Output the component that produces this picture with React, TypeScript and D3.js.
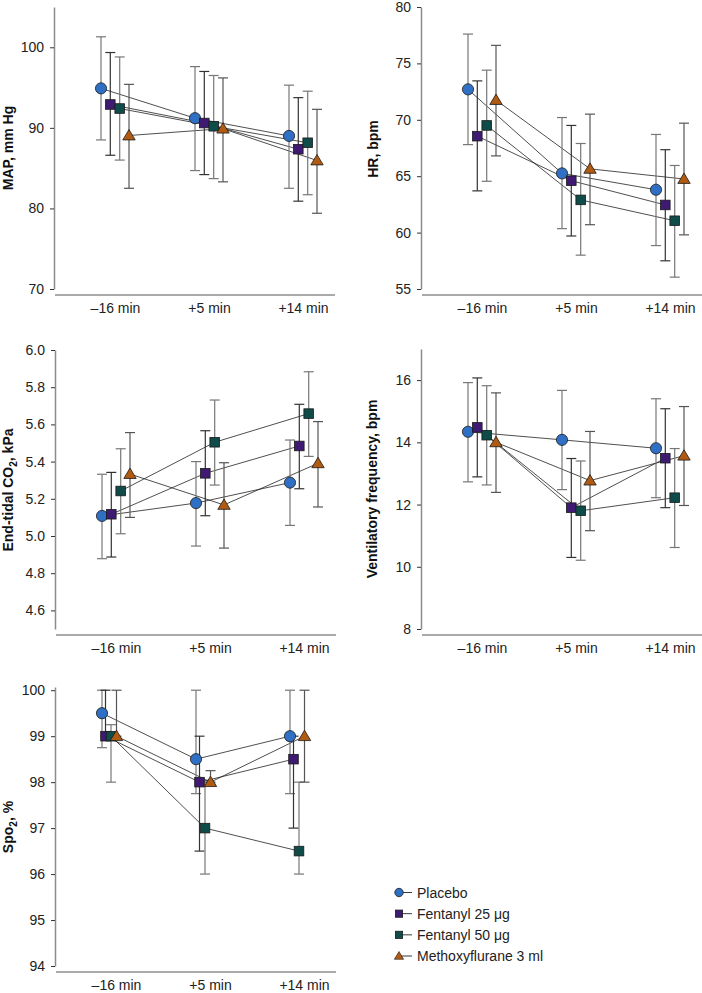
import { useEffect, useRef } from "react";
import * as d3 from "d3";

const times = ["\u201316 min", "+5 min", "+14 min"];
const groups = ["Placebo", "Fentanyl 25 \u03bcg", "Fentanyl 50 \u03bcg", "Methoxyflurane 3 ml"];
const colors = ["#2f70c4", "#3e1a72", "#0f4b48", "#b05a12"];
const shapes = ["circle", "square", "square", "triangle"];
const barColors = ["#777", "#333", "#777", "#555"];

// MAP, mm Hg (rows = groups, cols = times)
const mapMean = [[94.9, 91.2, 89.0], [92.9, 90.6, 87.35], [92.4, 90.2, 88.15], [89.05, 89.9, 85.95]];
const mapHi = [[101.3, 97.6, 95.3], [99.35, 97.0, 93.75], [98.8, 96.5, 94.55], [95.4, 96.2, 92.3]];
const mapLo = [[88.5, 84.7, 82.5], [86.6, 84.2, 80.9], [86.0, 83.7, 81.7], [82.5, 83.3, 79.4]];
const mapTicks = [70, 80, 90, 100];

// HR, bpm
const hrMean = [[72.7, 65.25, 63.8], [68.55, 64.6, 62.45], [69.5, 62.9, 61.05], [71.75, 65.65, 64.75]];
const hrHi = [[77.6, 70.2, 68.7], [73.45, 69.5, 67.35], [74.4, 67.9, 65.95], [76.6, 70.5, 69.7]];
const hrLo = [[67.8, 60.35, 58.85], [63.7, 59.7, 57.5], [64.55, 58.0, 56.05], [66.8, 60.7, 59.8]];
const hrTicks = [55, 60, 65, 70, 75, 80];

// End-tidal CO2, kPa
const co2Mean = [[5.108, 5.177, 5.287], [5.117, 5.337, 5.484], [5.242, 5.504, 5.658], [5.333, 5.167, 5.391]];
const co2Hi = [[5.332, 5.4, 5.516], [5.342, 5.566, 5.708], [5.469, 5.731, 5.883], [5.556, 5.394, 5.615]];
const co2Lo = [[4.878, 4.946, 5.057], [4.887, 5.109, 5.254], [5.012, 5.274, 5.428], [5.1, 4.935, 5.156]];
const co2Ticks = [4.6, 4.8, 5.0, 5.2, 5.4, 5.6, 5.8, 6.0];

// Ventilatory frequency, bpm
const vfMean = [[14.34, 14.08, 13.81], [14.48, 11.9, 13.49], [14.23, 11.8, 12.22], [14.0, 12.77, 13.57]];
const vfHi = [[15.92, 15.67, 15.4], [16.07, 13.48, 15.08], [15.82, 13.4, 13.8], [15.59, 14.35, 15.15]];
const vfLo = [[12.73, 12.48, 12.22], [12.89, 10.3, 11.9], [12.63, 10.21, 10.62], [12.39, 11.16, 11.97]];
const vfTicks = [8, 10, 12, 14, 16];

// SpO2, %
const spoMean = [[99.5, 98.5, 99.0], [99.0, 98.0, 98.5], [99.0, 97.0, 96.5], [99.0, 98.0, 99.0]];
const spoHi = [[100, 100, 100], [100, 99, 99], [99.25, 98, 98], [100, 98.25, 100]];
const spoLo = [[98.75, 97.75, 97.75], [99, 96.5, 97], [98, 96, 96], [99, 98, 98]];
const spoTicks = [94, 95, 96, 97, 98, 99, 100];

const font = "'Liberation Sans', Arial, sans-serif";

const panels = [
  { mean: mapMean, hi: mapHi, lo: mapLo, ticks: mapTicks, domain: [70, 105], fmt: d3.format("d"),
    ax: 54, top: 7, bottom: 289, xAxisY: 295, tx: 13, ty: 148, title: [["MAP, mm Hg", 0]], off: [-14, -4.7, 4.7, 14] },
  { mean: hrMean, hi: hrHi, lo: hrLo, ticks: hrTicks, domain: [55, 80], fmt: d3.format("d"),
    ax: 421, top: 7, bottom: 289, xAxisY: 295, tx: 378, ty: 149, title: [["HR, bpm", 0]], off: [-14, -4.7, 4.7, 14] },
  { mean: co2Mean, hi: co2Hi, lo: co2Lo, ticks: co2Ticks, domain: [4.5, 6.0], fmt: d3.format(".1f"),
    ax: 55, top: 350, bottom: 629, xAxisY: 635, tx: 13, ty: 490, title: [["End-tidal CO", 0], ["2", 1], [", kPa", 0]], off: [-14, -4.7, 4.7, 14] },
  { mean: vfMean, hi: vfHi, lo: vfLo, ticks: vfTicks, domain: [8, 17], fmt: d3.format("d"),
    ax: 421, top: 349, bottom: 629, xAxisY: 635, tx: 377, ty: 489, title: [["Ventilatory frequency, bpm", 0]], off: [-14, -4.7, 4.7, 14] },
  { mean: spoMean, hi: spoHi, lo: spoLo, ticks: spoTicks, domain: [94, 100.07], fmt: d3.format("d"),
    ax: 55, top: 687, bottom: 966, xAxisY: 972, tx: 13, ty: 827, title: [["Spo", 0], ["2", 1], [", %", 0]], off: [-14, -10.5, -5, 0.5] },
];

function drawMarker(g: any, shape: string, cx: number, cy: number, fill: string, s = 1) {
  if (shape === "circle") {
    g.append("circle").attr("cx", cx).attr("cy", cy).attr("r", 5.6 * s)
      .attr("fill", fill).attr("stroke", "#1a1a1a").attr("stroke-width", 0.8);
  } else if (shape === "square") {
    const h = 4.8 * s;
    g.append("rect").attr("x", cx - h).attr("y", cy - h).attr("width", 2 * h).attr("height", 2 * h)
      .attr("fill", fill).attr("stroke", "#1a1a1a").attr("stroke-width", 0.8);
  } else {
    g.append("path").attr("transform", `translate(${cx},${cy}) scale(${s})`)
      .attr("d", "M0,-6L6.2,4.4L-6.2,4.4Z")
      .attr("fill", fill).attr("stroke", "#1a1a1a").attr("stroke-width", 0.8);
  }
}

export default function App() {
  const svgRef = useRef<SVGSVGElement>(null);

  useEffect(() => {
    const svg = d3.select(svgRef.current);
    svg.selectAll("*").remove();

    panels.forEach(p => {
      const g = svg.append("g");
      const y = d3.scaleLinear().domain(p.domain).range([p.bottom, p.top]);
      const x = d3.scalePoint<string>().domain(times).range([p.ax + 61, p.ax + 249]);

      // x axis: plain line + labels
      g.append("line").attr("x1", p.ax + 1).attr("x2", p.ax + 281)
        .attr("y1", p.xAxisY).attr("y2", p.xAxisY).attr("stroke", "#555").attr("stroke-width", 1);
      const xa = g.append("g").attr("transform", `translate(0,${p.xAxisY})`)
        .call(d3.axisBottom(x).tickSize(0).tickPadding(8));
      xa.select(".domain").remove();
      xa.attr("font-size", 14).attr("font-family", font);
      xa.selectAll("text").attr("fill", "#222");

      // y axis
      const ya = g.append("g").attr("transform", `translate(${p.ax},0)`)
        .call(d3.axisLeft(y).tickValues(p.ticks).tickFormat(p.fmt as any).tickSize(4).tickSizeOuter(0).tickPadding(6));
      ya.attr("font-size", 14).attr("font-family", font);
      ya.select(".domain").attr("stroke", "#8c8c8c").attr("stroke-width", 1.5);
      ya.selectAll(".tick line").attr("stroke", "#333");
      ya.selectAll("text").attr("fill", "#222");

      // y title
      const t = g.append("text").attr("transform", `translate(${p.tx},${p.ty}) rotate(-90)`)
        .attr("text-anchor", "middle").attr("font-family", font).attr("font-weight", "bold")
        .attr("font-size", 14).attr("fill", "#111");
      let prevSub = 0;
      p.title.forEach(([txt, sub]) => {
        const ts = t.append("tspan").text(txt as string)
          .attr("font-size", sub ? 10 : 14)
          .attr("dy", sub ? 4 : prevSub ? -4 : 0);
        prevSub = sub as number;
        void ts;
      });

      const px = (s: number, i: number) => (x(times[i]) as number) + p.off[s];

      // connecting lines
      groups.forEach((_, s) => {
        const line = d3.line<number>().x((_, i) => px(s, i)).y(v => y(v));
        g.append("path").datum(p.mean[s]).attr("d", line).attr("fill", "none")
          .attr("stroke", "#222").attr("stroke-width", 0.8);
      });

      // error bars
      groups.forEach((_, s) => {
        times.forEach((_, i) => {
          const cx = px(s, i);
          const y1 = y(p.lo[s][i]), y2 = y(p.hi[s][i]);
          g.append("line").attr("x1", cx).attr("x2", cx).attr("y1", y1).attr("y2", y2)
            .attr("stroke", barColors[s]).attr("stroke-width", 1.2);
          [y1, y2].forEach(yy => {
            g.append("line").attr("x1", cx - 5).attr("x2", cx + 5).attr("y1", yy).attr("y2", yy)
              .attr("stroke", barColors[s]).attr("stroke-width", 1.2);
          });
        });
      });

      // markers
      groups.forEach((_, s) => {
        times.forEach((_, i) => drawMarker(g, shapes[s], px(s, i), y(p.mean[s][i]), colors[s]));
      });
    });

    // legend
    const leg = svg.append("g");
    const legY = d3.scalePoint<string>().domain(groups).range([892.5, 956]);
    groups.forEach((name, s) => {
      const cy = legY(name) as number;
      leg.append("line").attr("x1", 399).attr("x2", 412).attr("y1", cy).attr("y2", cy)
        .attr("stroke", "#222").attr("stroke-width", 0.9);
      drawMarker(leg, shapes[s], 399, cy, colors[s], 0.75);
      leg.append("text").attr("x", 417).attr("y", cy + 5).attr("font-family", font)
        .attr("font-size", 14).attr("fill", "#222").text(name);
    });
  }, []);

  return (
    <svg ref={svgRef} width={702} height={993}
      style={{ position: "absolute", left: 0, top: 0, background: "#fff", display: "block" }} />
  );
}
